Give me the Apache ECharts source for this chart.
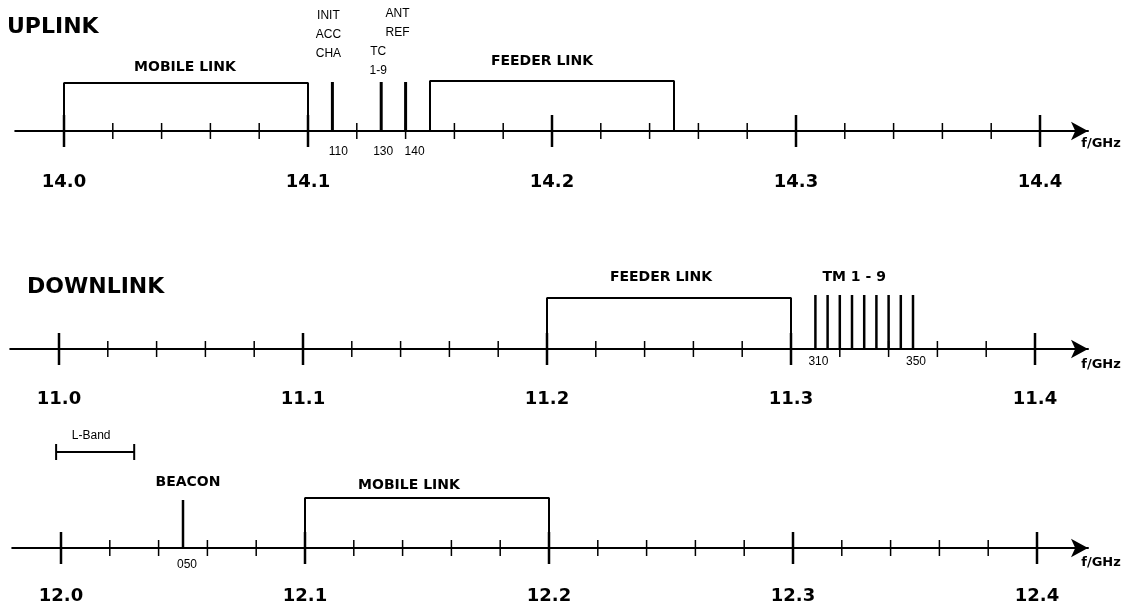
<!DOCTYPE html>
<html><head><meta charset="utf-8">
<script src="https://cdn.jsdelivr.net/npm/echarts@6/dist/echarts.min.js"></script>
<style>html,body{margin:0;padding:0;background:#fff}#c{width:1130px;height:607px}</style>
</head><body><div id="c"></div>
<script>
// ---------------- DATA ----------------
// Uplink (GHz)
const upMajor = [14.0, 14.1, 14.2, 14.3, 14.4];
const upTickLabels = ['14.0', '14.1', '14.2', '14.3', '14.4'];
const upMinor = [14.02, 14.04, 14.06, 14.08, 14.12, 14.14, 14.16, 14.18, 14.22, 14.24, 14.26, 14.28, 14.32, 14.34, 14.36, 14.38];
const upBandNames = ['MOBILE LINK', 'FEEDER LINK'];
const upBandFrom = [14.00, 14.15];
const upBandTo = [14.10, 14.25];
const upCarrierFreq = [14.11, 14.13, 14.14];
const upCarrierNames = ['INIT\nACC\nCHA', 'TC\n1-9', 'ANT\nREF'];
const upCarrierCodes = ['110', '130', '140'];

// Downlink 11 GHz
const dnMajor = [11.0, 11.1, 11.2, 11.3, 11.4];
const dnTickLabels = ['11.0', '11.1', '11.2', '11.3', '11.4'];
const dnMinor = [11.02, 11.04, 11.06, 11.08, 11.12, 11.14, 11.16, 11.18, 11.22, 11.24, 11.26, 11.28, 11.32, 11.34, 11.36, 11.38];
const dnBandNames = ['FEEDER LINK'];
const dnBandFrom = [11.20];
const dnBandTo = [11.30];
const dnTmFreq = [11.310, 11.315, 11.320, 11.325, 11.330, 11.335, 11.340, 11.345, 11.350];
const dnTmName = 'TM 1 - 9';
const dnTmCodes = ['310', '350'];
const dnTmCodeFreq = [11.31, 11.35];

// Downlink 12 GHz
const d2Major = [12.0, 12.1, 12.2, 12.3, 12.4];
const d2TickLabels = ['12.0', '12.1', '12.2', '12.3', '12.4'];
const d2Minor = [12.02, 12.04, 12.06, 12.08, 12.12, 12.14, 12.16, 12.18, 12.22, 12.24, 12.26, 12.28, 12.32, 12.34, 12.36, 12.38];
const d2BandNames = ['MOBILE LINK'];
const d2BandFrom = [12.10];
const d2BandTo = [12.20];
const d2BeaconFreq = [12.05];
const d2BeaconName = 'BEACON';
const d2BeaconCode = '050';
const lBandName = 'L-Band';
const lBandFrom = 11.998;
const lBandTo = 12.03;

const titles = ['UPLINK', 'DOWNLINK'];
const unitLabel = 'f/GHz';

// ---------------- LAYOUT / STYLE ----------------
const PX = 2440;           // pixels per GHz
const BOLD = 'DejaVu Sans';
const THIN = 'Liberation Sans';
const panels = [
  { zeroX: 64, axisY: 131, ymax: 131, ymin: -69, labelH: -51 },
  { zeroX: 59, axisY: 349, ymax: 129, ymin: -71, labelH: -50 },
  { zeroX: 61, axisY: 548, ymax: 128, ymin: -59, labelH: -48 }
];
const ARROW_END_PX = 1088;

const grids = [], xAxes = [], yAxes = [], series = [];

function addPanel(i, start) {
  const p = panels[i];
  const min = start - 0.02;
  const max = start + (ARROW_END_PX - p.zeroX) / PX;
  const left = p.zeroX - 0.02 * PX;
  grids.push({ left: left, width: (max - min) * PX, top: p.axisY - p.ymax, height: p.ymax - p.ymin,
    containLabel: false, outerBoundsMode: 'none' });
  xAxes.push({
    type: 'value', gridIndex: i, min: min, max: max,
    axisLine: { show: true, onZero: true, symbol: ['none', 'arrow'], symbolSize: [14, 17],
      lineStyle: { color: '#000', width: 2 } },
    axisTick: { show: false }, splitLine: { show: false }, axisLabel: { show: false }
  });
  yAxes.push({ type: 'value', gridIndex: i, min: p.ymin, max: p.ymax, show: false });
}

function ticks(i, freqs, half, width) {
  series.push({
    type: 'custom', xAxisIndex: i, yAxisIndex: i, silent: true, animation: false,
    encode: { x: 0, y: 1 },
    data: freqs.map(f => [f, 0]),
    renderItem: (params, api) => {
      const c = api.coord([api.value(0), 0]);
      return { type: 'line', shape: { x1: c[0], y1: c[1] - half, x2: c[0], y2: c[1] + half },
        style: { stroke: '#000', lineWidth: width } };
    }
  });
}

function carriers(i, freqs, h, width) {
  series.push({
    type: 'custom', xAxisIndex: i, yAxisIndex: i, silent: true, animation: false,
    encode: { x: 0, y: 1 },
    data: freqs.map(f => [f, h]),
    renderItem: (params, api) => {
      const a = api.coord([api.value(0), 0]);
      const b = api.coord([api.value(0), api.value(1)]);
      return { type: 'line', shape: { x1: a[0], y1: a[1], x2: b[0], y2: b[1] },
        style: { stroke: '#000', lineWidth: width } };
    }
  });
}

function bracket(i, f0, f1, h) {
  series.push({
    type: 'line', xAxisIndex: i, yAxisIndex: i, silent: true, animation: false,
    symbol: 'none', lineStyle: { color: '#000', width: 2 },
    data: [[f0, 0], [f0, h], [f1, h], [f1, 0]]
  });
}

function texts(i, items, style) {
  series.push({
    type: 'scatter', xAxisIndex: i, yAxisIndex: i, silent: true, animation: false, clip: false,
    symbolSize: 0, data: items, itemStyle: { opacity: 1, color: '#000' },
    label: Object.assign({ show: true, position: 'inside', formatter: '{b}', color: '#000',
      opacity: 1, textBorderWidth: 0 }, style)
  });
}

const bandFont = { fontFamily: BOLD, fontWeight: 'bold', fontSize: 14 };
const tickFont = { fontFamily: BOLD, fontWeight: 'bold', fontSize: 18 };
const smallFont = { fontFamily: THIN, fontSize: 12, lineHeight: 19 };
const codeFont = { fontFamily: THIN, fontSize: 12 };
const unitFont = { fontFamily: BOLD, fontWeight: 'bold', fontSize: 13 };

function tickLabels(i, freqs, labels) {
  texts(i, freqs.map((f, k) => ({ name: labels[k], value: [f, panels[i].labelH] })), tickFont);
}

// ---- Uplink ----
addPanel(0, upMajor[0]);
ticks(0, upMinor, 8, 1.5);
ticks(0, upMajor, 16, 2.5);
tickLabels(0, upMajor, upTickLabels);
bracket(0, upBandFrom[0], upBandTo[0], 48);
bracket(0, upBandFrom[1], upBandTo[1], 50);
carriers(0, upCarrierFreq, 49, 3);
texts(0, [
  { name: upBandNames[0], value: [(upBandFrom[0] + upBandTo[0]) / 2 - 1 / PX, 64] },
  { name: upBandNames[1], value: [(upBandFrom[1] + upBandTo[1]) / 2 - 10 / PX, 70] }
], bandFont);
const upTxtDx = [-4, -3, -8], upTxtH = [96, 70, 108];
texts(0, upCarrierFreq.map((f, k) => ({ name: upCarrierNames[k], value: [f + upTxtDx[k] / PX, upTxtH[k]] })), smallFont);
const upCodeDx = [6, 2, 9];
texts(0, upCarrierFreq.map((f, k) => ({ name: upCarrierCodes[k], value: [f + upCodeDx[k] / PX, -21] })), codeFont);
texts(0, [{ name: unitLabel, value: [upMajor[0] + (1101 - panels[0].zeroX) / PX, -13] }], unitFont);

// ---- Downlink 11 GHz ----
addPanel(1, dnMajor[0]);
ticks(1, dnMinor, 8, 1.5);
ticks(1, dnMajor, 16, 2.5);
tickLabels(1, dnMajor, dnTickLabels);
bracket(1, dnBandFrom[0], dnBandTo[0], 51);
carriers(1, dnTmFreq, 54, 2.5);
texts(1, [
  { name: dnBandNames[0], value: [(dnBandFrom[0] + dnBandTo[0]) / 2 - 8 / PX, 72] },
  { name: dnTmName, value: [(dnTmFreq[0] + dnTmFreq[dnTmFreq.length - 1]) / 2 - 10 / PX, 72] }
], bandFont);
texts(1, dnTmCodeFreq.map((f, k) => ({ name: dnTmCodes[k], value: [f + 3 / PX, -13] })), codeFont);
texts(1, [{ name: unitLabel, value: [dnMajor[0] + (1101 - panels[1].zeroX) / PX, -16] }], unitFont);

// ---- Downlink 12 GHz ----
addPanel(2, d2Major[0]);
ticks(2, d2Minor, 8, 1.5);
ticks(2, d2Major, 16, 2.5);
tickLabels(2, d2Major, d2TickLabels);
bracket(2, d2BandFrom[0], d2BandTo[0], 50);
carriers(2, d2BeaconFreq, 48, 2.5);
series.push({
  type: 'line', xAxisIndex: 2, yAxisIndex: 2, silent: true, animation: false,
  symbol: 'none', lineStyle: { color: '#000', width: 2 },
  data: [[lBandFrom, 104], [lBandFrom, 88], [lBandFrom, 96], [lBandTo, 96], [lBandTo, 104], [lBandTo, 88]]
});
texts(2, [{ name: lBandName, value: [(lBandFrom + lBandTo) / 2 - 4 / PX, 112] }], { fontFamily: THIN, fontSize: 12 });
texts(2, [
  { name: d2BeaconName, value: [d2BeaconFreq[0] + 5 / PX, 66] },
  { name: d2BandNames[0], value: [(d2BandFrom[0] + d2BandTo[0]) / 2 - 18 / PX, 63] }
], bandFont);
texts(2, [{ name: d2BeaconCode, value: [d2BeaconFreq[0] + 4 / PX, -17] }], codeFont);
texts(2, [{ name: unitLabel, value: [d2Major[0] + (1101 - panels[2].zeroX) / PX, -15] }], unitFont);

const chart = echarts.init(document.getElementById('c'), null, { renderer: 'canvas' });
chart.setOption({
  backgroundColor: '#fff',
  animation: false,
  title: [
    { text: titles[0], left: 7, top: 16, padding: 0, textStyle: { fontFamily: BOLD, fontWeight: 'bold', fontSize: 22, color: '#000' } },
    { text: titles[1], left: 27, top: 276, padding: 0, textStyle: { fontFamily: BOLD, fontWeight: 'bold', fontSize: 22, color: '#000' } }
  ],
  grid: grids, xAxis: xAxes, yAxis: yAxes, series: series
});
</script></body></html>
